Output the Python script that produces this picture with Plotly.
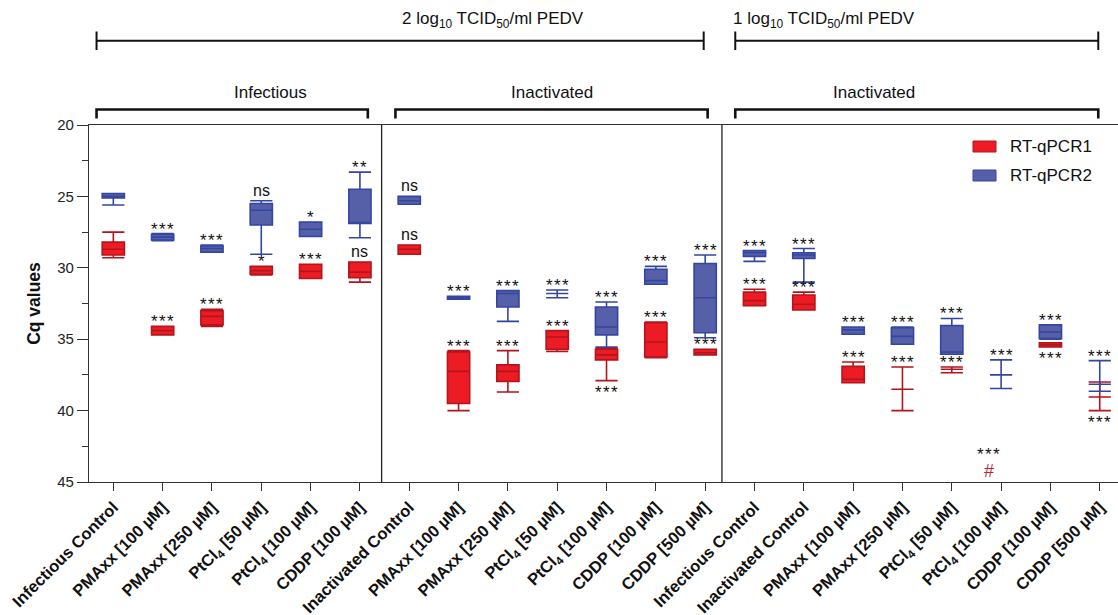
import plotly.graph_objects as go

# ---------------- data ----------------
categories = [
    "Infectious Control", "PMAxx [100 µM]", "PMAxx [250 µM]",
    "PtCl<sub>4</sub> [50 µM]", "PtCl<sub>4</sub> [100 µM]", "CDDP [100 µM]",
    "Inactivated Control", "PMAxx [100 µM]", "PMAxx [250 µM]",
    "PtCl<sub>4</sub> [50 µM]", "PtCl<sub>4</sub> [100 µM]", "CDDP [100 µM]", "CDDP [500 µM]",
    "Infectious Control", "Inactivated Control", "PMAxx [100 µM]", "PMAxx [250 µM]",
    "PtCl<sub>4</sub> [50 µM]", "PtCl<sub>4</sub> [100 µM]", "CDDP [100 µM]", "CDDP [500 µM]",
]

# RT-qPCR1 (min, q1, median, q3, max); None = not detected
r1_low  = [27.5, 34.1, 32.9, 29.9, 29.75, 29.6, 28.4, 35.8, 35.8, 34.4, 35.6, 33.8, 35.7,
           31.5, 31.7, 36.6, 36.95, 36.95, None, 35.25, 38.0]
r1_q1   = [28.2, 34.1, 33.0, 29.9, 29.75, 29.6, 28.4, 35.9, 36.8, 34.4, 35.7, 33.85, 35.7,
           31.7, 31.9, 36.9, 38.5, 37.1, None, 35.25, 39.05]
r1_med  = [28.7, 34.4, 33.4, 30.2, 30.25, 30.3, 28.7, 37.25, 37.25, 34.85, 36.1, 35.2, 35.95,
           32.3, 32.55, 37.8, 38.5, 37.1, None, 35.4, 39.05]
r1_q3   = [29.1, 34.7, 34.0, 30.45, 30.75, 30.7, 29.05, 39.5, 37.95, 35.7, 36.45, 36.25, 36.1,
           32.65, 32.95, 38.05, 38.5, 37.1, None, 35.55, 39.05]
r1_high = [29.3, 34.7, 34.1, 30.5, 30.75, 31.0, 29.05, 40.0, 38.7, 35.85, 37.9, 36.3, 36.1,
           32.65, 32.95, 38.05, 40.0, 37.35, None, 35.55, 40.0]

# RT-qPCR2
r2_low  = [24.8, 27.6, 28.4, 25.3, 26.8, 23.3, 25.0, 32.0, 31.6, 31.55, 32.4, 29.9, 29.1,
           28.8, 28.65, 34.15, 34.15, 33.55, 36.45, 34.0, 36.5]
r2_q1   = [24.8, 27.65, 28.45, 25.5, 26.8, 24.5, 25.0, 32.0, 31.6, 31.8, 32.75, 30.1, 29.7,
           28.8, 28.95, 34.15, 34.2, 34.05, 37.5, 34.0, 38.15]
r2_med  = [25.0, 27.85, 28.65, 25.97, 27.3, 26.85, 25.3, 32.1, 31.8, 31.8, 34.15, 30.9, 32.1,
           28.95, 29.1, 34.35, 34.8, 35.9, 37.5, 34.5, 38.15]
r2_q3   = [25.1, 28.05, 28.9, 27.0, 27.8, 26.9, 25.55, 32.2, 32.75, 31.8, 34.7, 31.15, 34.55,
           29.2, 29.35, 34.65, 35.35, 36.05, 37.5, 34.95, 38.15]
r2_high = [25.6, 28.1, 28.9, 29.05, 27.8, 27.9, 25.55, 32.2, 33.75, 32.1, 35.55, 31.15, 34.9,
           29.55, 31.0, 34.65, 35.35, 36.05, 38.45, 35.0, 38.65]

# significance labels ("" = none) and side ("a" above box, "b" below box)
r1_sig = ["", "***", "***", "*", "***", "ns", "ns", "***", "***", "***", "***", "***", "***",
          "***", "***", "***", "***", "***", "", "***", "***"]
r1_side = ["a", "a", "a", "a", "a", "a", "a", "a", "a", "a", "b", "a", "a",
           "a", "a", "a", "a", "a", "a", "b", "b"]
r2_sig = ["", "***", "***", "ns", "*", "**", "ns", "***", "***", "***", "***", "***", "***",
          "***", "***", "***", "***", "***", "***", "***", "***"]
r2_side = ["a"] * 21

# not-detected markers for RT-qPCR1 at PtCl4 [100 µM] (1 log)
nd_text = ["***", "#"]
nd_y = [43.1, 44.2]
nd_x = 17.75

series_names = ["RT-qPCR1", "RT-qPCR2"]
top_groups = ["2 log<sub>10</sub> TCID<sub>50</sub>/ml PEDV", "1 log<sub>10</sub> TCID<sub>50</sub>/ml PEDV"]
top_span = [(-0.34, 11.97), (12.61, 19.97)]
sub_groups = ["Infectious", "Inactivated", "Inactivated"]
sub_span = [(-0.34, 5.16), (5.72, 12.05), (12.61, 19.97)]
dividers = [5.44, 12.34]

# ---------------- style ----------------
RED_FILL, RED_LINE = "#ED1C24", "#B3151C"
BLUE_FILL, BLUE_LINE = "#5560A9", "#3546A0"
FONT = "Liberation Sans, Arial, sans-serif"
X0, X1 = -0.493, 20.37
TOP_PX, BOT_PX = 125, 482
STAR_SIZE = 17


def px_x(c):
    return (c - X0) / (X1 - X0)


def py(p):
    return (BOT_PX - p) / (BOT_PX - TOP_PX)


def stars(t):
    return "\u200a".join(t) if "*" in t else t


fig = go.Figure()


def add_series(name, low, q1, med, q3, high, fill, line):
    idx = [i for i in range(len(categories)) if med[i] is not None]
    fig.add_trace(go.Box(
        name=name,
        x=idx,
        lowerfence=[low[i] for i in idx],
        q1=[q1[i] for i in idx],
        median=[med[i] for i in idx],
        q3=[q3[i] for i in idx],
        upperfence=[high[i] for i in idx],
        width=0.45, whiskerwidth=1,
        fillcolor=fill, line=dict(color=line, width=1.6),
        boxpoints=False, showlegend=False, hoverinfo="skip",
    ))


add_series(series_names[0], r1_low, r1_q1, r1_med, r1_q3, r1_high, RED_FILL, RED_LINE)
add_series(series_names[1], r2_low, r2_q1, r2_med, r2_q3, r2_high, BLUE_FILL, BLUE_LINE)

annotations = []


def add_sig(sig, side, low, high):
    for i, t in enumerate(sig):
        if not t or low[i] is None:
            continue
        star = "*" in t
        size = STAR_SIZE if star else 16
        if side[i] == "a":
            annotations.append(dict(x=i, y=low[i], xref="x", yref="y", text=stars(t),
                                    showarrow=False, yanchor="bottom",
                                    yshift=-7 if star else 0,
                                    font=dict(family=FONT, size=size, color="#111")))
        else:
            annotations.append(dict(x=i, y=high[i], xref="x", yref="y", text=stars(t),
                                    showarrow=False, yanchor="top",
                                    yshift=0 if star else -1,
                                    font=dict(family=FONT, size=size, color="#111")))


add_sig(r1_sig, r1_side, r1_low, r1_high)
add_sig(r2_sig, r2_side, r2_low, r2_high)

annotations.append(dict(x=nd_x, y=nd_y[0], xref="x", yref="y", text=stars(nd_text[0]),
                        showarrow=False, font=dict(family=FONT, size=STAR_SIZE, color="#111")))
annotations.append(dict(x=nd_x, y=nd_y[1], xref="x", yref="y", text=nd_text[1],
                        showarrow=False, font=dict(family=FONT, size=18, color="#C0282D")))

shapes = []
# group brackets
for txt, (a, b) in zip(top_groups, top_span):
    xa, xb = px_x(a), px_x(b)
    shapes.append(dict(type="line", xref="paper", yref="paper", x0=xa, x1=xb, y0=py(40.7), y1=py(40.7),
                       line=dict(color="#111", width=2)))
    for xx in (xa, xb):
        shapes.append(dict(type="line", xref="paper", yref="paper", x0=xx, x1=xx, y0=py(31.5), y1=py(50),
                           line=dict(color="#111", width=2)))
    annotations.append(dict(x=(xa + xb) / 2, y=py(20), xref="paper", yref="paper", text=txt,
                            showarrow=False, yanchor="middle", font=dict(family=FONT, size=17, color="#111")))
for txt, (a, b) in zip(sub_groups, sub_span):
    xa, xb = px_x(a), px_x(b)
    shapes.append(dict(type="path", xref="paper", yref="paper",
                       path=f"M{xa},{py(118.5)} L{xa},{py(109.5)} L{xb},{py(109.5)} L{xb},{py(118.5)}",
                       line=dict(color="#111", width=2.6)))
    annotations.append(dict(x=(xa + xb) / 2, y=py(92), xref="paper", yref="paper", text=txt,
                            showarrow=False, yanchor="middle", font=dict(family=FONT, size=17, color="#111")))
# section dividers
for d in dividers:
    shapes.append(dict(type="line", xref="paper", yref="paper", x0=px_x(d), x1=px_x(d), y0=0, y1=1,
                       line=dict(color="#222", width=1.3)))

# manual legend
for k, (nm, fc, lc) in enumerate([(series_names[0], RED_FILL, RED_LINE), (series_names[1], BLUE_FILL, BLUE_LINE)]):
    top = 141 + k * 29
    shapes.append(dict(type="rect", xref="paper", yref="paper",
                       x0=(973 - 89) / 1029, x1=(996 - 89) / 1029, y0=py(top + 11), y1=py(top),
                       fillcolor=fc, line=dict(color=lc, width=1)))
    annotations.append(dict(x=(1008 - 89) / 1029, y=py(top + 5.5), xref="paper", yref="paper", text=nm,
                            showarrow=False, xanchor="left", yanchor="middle",
                            font=dict(family=FONT, size=17, color="#111")))

fig.update_layout(
    width=1118, height=615,
    margin=dict(l=89, r=0, t=TOP_PX, b=615 - BOT_PX, autoexpand=False),
    paper_bgcolor="white", plot_bgcolor="white",
    boxmode="overlay",
    showlegend=False,
    shapes=shapes, annotations=annotations,
    font=dict(family=FONT, color="#111"),
)
fig.update_xaxes(
    range=[X0, X1], tickmode="array", tickvals=list(range(len(categories))),
    ticktext=[f"<b>{c}</b>" for c in categories], tickangle=-45,
    tickfont=dict(family=FONT, size=16.5, color="#111"),
    ticks="outside", ticklen=8, tickwidth=1.3, tickcolor="#333",
    showline=True, linecolor="#333", linewidth=1.3, mirror=True,
    showgrid=False, zeroline=False, automargin=False,
)
fig.update_yaxes(
    range=[45, 20], tickvals=[20, 25, 30, 35, 40, 45],
    tickfont=dict(family=FONT, size=15, color="#222"),
    ticks="outside", ticklen=11, tickwidth=1.3, tickcolor="#333",
    minor=dict(dtick=2.5, tick0=20, ticks="outside", ticklen=6, tickwidth=1.3, tickcolor="#333"),
    showline=True, linecolor="#333", linewidth=1.3,
    showgrid=False, zeroline=False, automargin=False,
    title=dict(text="<b>Cq values</b>", font=dict(family=FONT, size=17.5, color="#111"), standoff=12),
)

fig.write_html("out.html")
